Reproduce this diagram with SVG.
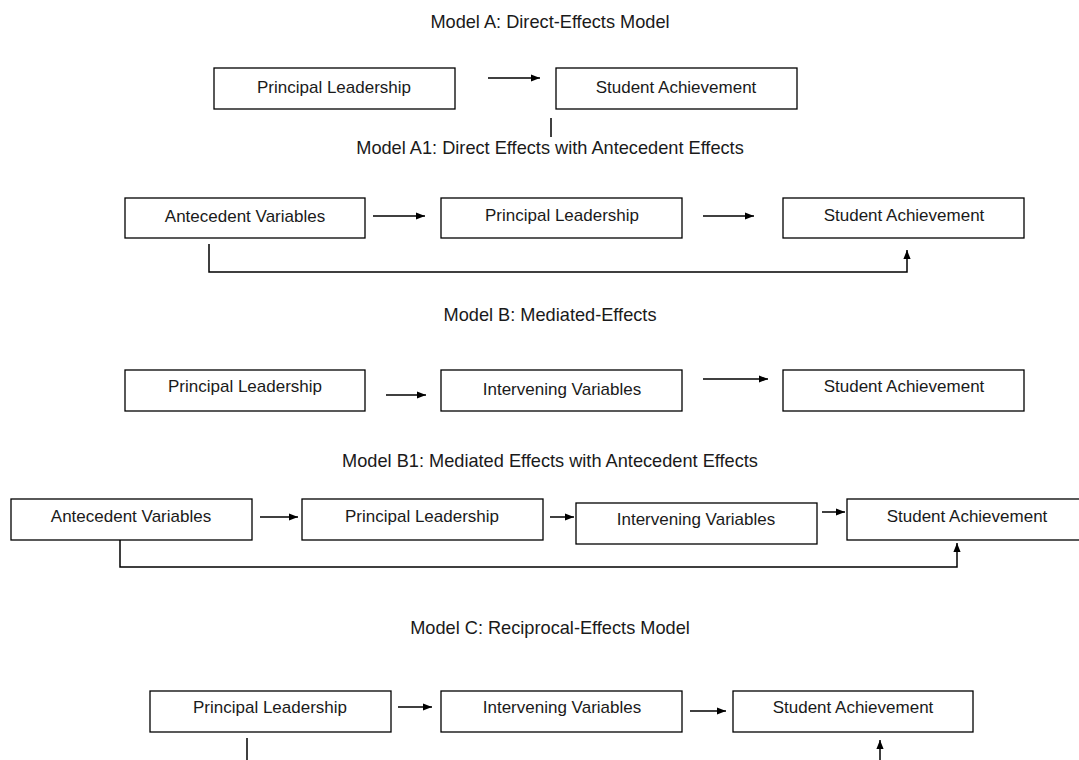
<svg xmlns="http://www.w3.org/2000/svg" width="1079" height="760" viewBox="0 0 1079 760">
<style>
text{font-family:"Liberation Sans",Arial,sans-serif;font-size:17px;fill:#1a1a1a;text-anchor:middle}
.t{font-size:18.2px}
.box{fill:#fff;stroke:#000;stroke-width:1.3}
.ln{fill:none;stroke:#000;stroke-width:1.5}
</style>
<defs>
<marker id="ah" viewBox="0 0 10 10" refX="10" refY="5" markerWidth="9" markerHeight="9" markerUnits="userSpaceOnUse" orient="auto"><path d="M0,1 L10,5 L0,9 Z" fill="#000"/></marker>
</defs>
<rect width="1079" height="760" fill="#fff"/>
<g id="titles">
<text class="t" x="550" y="28">Model A: Direct-Effects Model</text>
<text class="t" x="550" y="154">Model A1: Direct Effects with Antecedent Effects</text>
<text class="t" x="550" y="321">Model B: Mediated-Effects</text>
<text class="t" x="550" y="467">Model B1: Mediated Effects with Antecedent Effects</text>
<text class="t" x="550" y="634">Model C: Reciprocal-Effects Model</text>
</g>
<g id="a-pl"><rect class="box" x="214" y="68" width="241" height="41"/><text x="334" y="93">Principal Leadership</text></g>
<g id="a-sa"><rect class="box" x="556" y="68" width="241" height="41"/><text x="676" y="93">Student Achievement</text></g>
<g id="a1-av"><rect class="box" x="125" y="198" width="240" height="40"/><text x="245" y="222">Antecedent Variables</text></g>
<g id="a1-pl"><rect class="box" x="441" y="198" width="241" height="40"/><text x="562" y="221">Principal Leadership</text></g>
<g id="a1-sa"><rect class="box" x="783" y="198" width="241" height="40"/><text x="904" y="221">Student Achievement</text></g>
<g id="b-pl"><rect class="box" x="125" y="370" width="240" height="41"/><text x="245" y="392">Principal Leadership</text></g>
<g id="b-iv"><rect class="box" x="441" y="370" width="241" height="41"/><text x="562" y="395">Intervening Variables</text></g>
<g id="b-sa"><rect class="box" x="783" y="370" width="241" height="41"/><text x="904" y="392">Student Achievement</text></g>
<g id="b1-av"><rect class="box" x="11" y="499" width="241" height="41"/><text x="131" y="522">Antecedent Variables</text></g>
<g id="b1-pl"><rect class="box" x="302" y="499" width="241" height="41"/><text x="422" y="522">Principal Leadership</text></g>
<g id="b1-iv"><rect class="box" x="576" y="503" width="241" height="41"/><text x="696" y="525">Intervening Variables</text></g>
<g id="b1-sa"><rect class="box" x="847" y="499" width="240" height="41"/><text x="967" y="522">Student Achievement</text></g>
<g id="c-pl"><rect class="box" x="150" y="691" width="241" height="41"/><text x="270" y="713">Principal Leadership</text></g>
<g id="c-iv"><rect class="box" x="441" y="691" width="241" height="41"/><text x="562" y="713">Intervening Variables</text></g>
<g id="c-sa"><rect class="box" x="733" y="691" width="240" height="41"/><text x="853" y="713">Student Achievement</text></g>
<g id="connectors">
<line class="ln" x1="488" y1="78" x2="540" y2="78" marker-end="url(#ah)"/>
<line class="ln" x1="551" y1="118" x2="551" y2="137" stroke-width="2"/>
<line class="ln" x1="373" y1="216" x2="425" y2="216" marker-end="url(#ah)"/>
<line class="ln" x1="703" y1="216" x2="754" y2="216" marker-end="url(#ah)"/>
<path class="ln" d="M209,244 V272 H907 V250" marker-end="url(#ah)"/>
<line class="ln" x1="386" y1="395" x2="426" y2="395" marker-end="url(#ah)"/>
<line class="ln" x1="703" y1="379" x2="768" y2="379" marker-end="url(#ah)"/>
<line class="ln" x1="260" y1="517" x2="298" y2="517" marker-end="url(#ah)"/>
<line class="ln" x1="550" y1="517" x2="574" y2="517" marker-end="url(#ah)"/>
<line class="ln" x1="822" y1="512" x2="845" y2="512" marker-end="url(#ah)"/>
<path class="ln" d="M120,540 V567 H957 V543" marker-end="url(#ah)"/>
<line class="ln" x1="398" y1="707" x2="432" y2="707" marker-end="url(#ah)"/>
<line class="ln" x1="690" y1="711" x2="726" y2="711" marker-end="url(#ah)"/>
<line class="ln" x1="247" y1="738" x2="247" y2="760"/>
<line class="ln" x1="880" y1="760" x2="880" y2="740" marker-end="url(#ah)"/>
</g>
</svg>
